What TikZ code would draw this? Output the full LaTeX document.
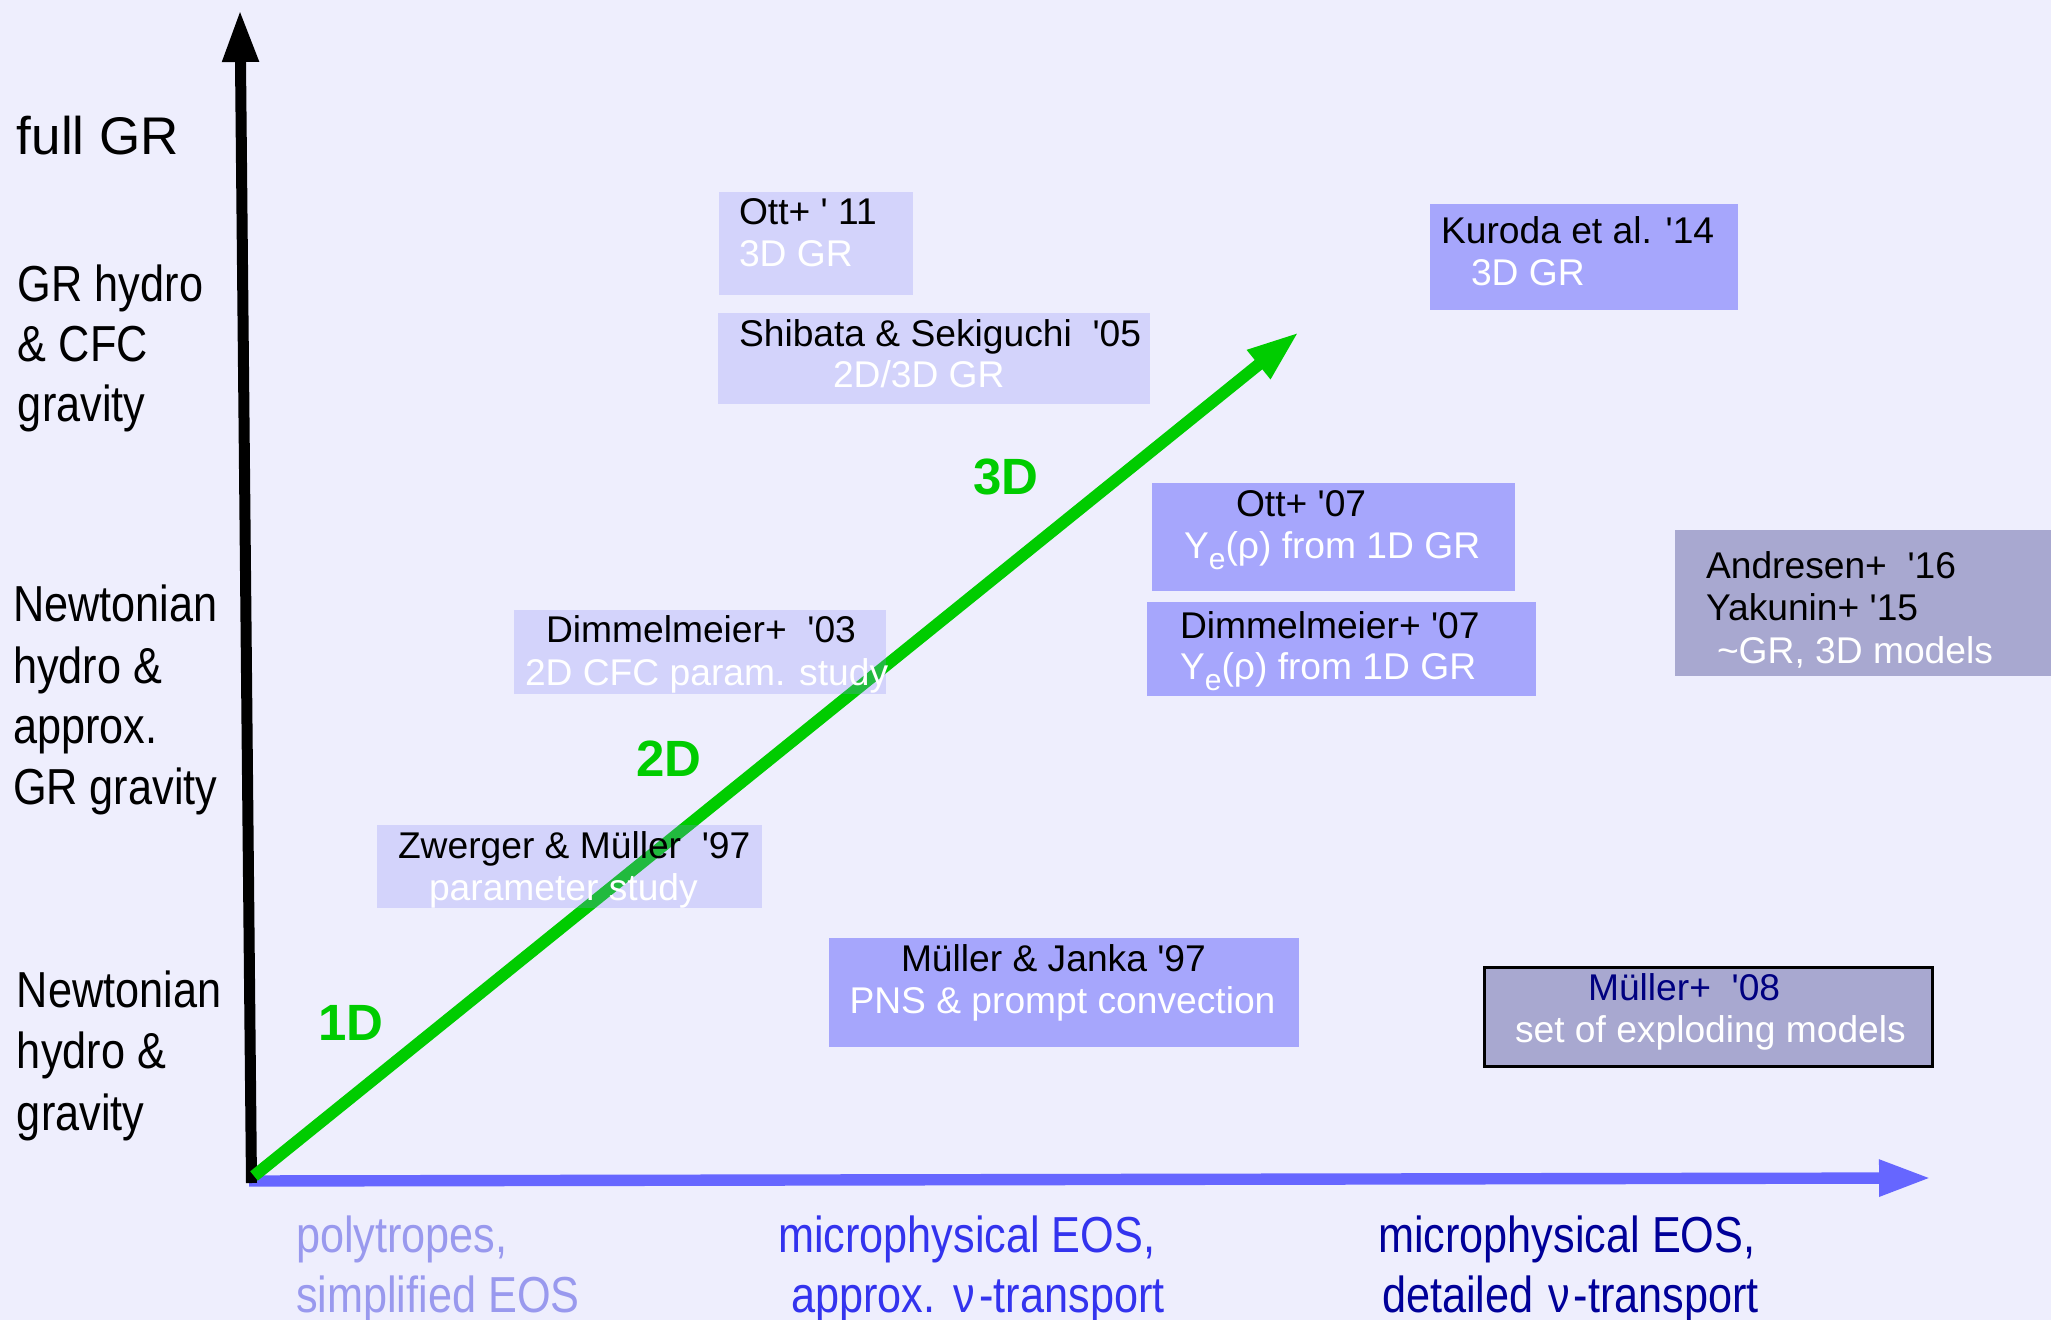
\documentclass[tikz,border=0pt]{standalone}
\usepackage{fontspec}
\usepackage{graphicx}
\setmainfont{Liberation Sans}[Ligatures=TeXOff]
\newfontfamily\narfont{Liberation Sans}[FakeStretch=0.855,Ligatures=TeXOff]
\usetikzlibrary{arrows.meta}
\definecolor{bgc}{RGB}{238,238,253}
\definecolor{lightbx}{RGB}{134,134,249}
\definecolor{medbx}{RGB}{166,166,252}
\definecolor{graybx}{RGB}{168,168,208}
\definecolor{axblue}{RGB}{102,102,255}
\definecolor{grn}{RGB}{0,204,0}
\definecolor{polyc}{RGB}{153,153,238}
\definecolor{apprc}{RGB}{51,51,238}
\definecolor{detc}{RGB}{0,0,153}
\definecolor{navyc}{RGB}{0,0,128}
\newcommand\tline[5]{\node[#4,anchor=base west,inner sep=0pt,outer sep=0pt] (#1) at (#2,#3) {#5};}
\newcommand\Ye{Y\raisebox{-0.28em}{\fontsize{15pt}{15pt}\selectfont e}(ρ)}
\newcommand\nuc{\hspace{0.05em}ν\hspace{0.08em}}
\tikzset{
  bx/.style={rectangle,inner sep=0pt,outer sep=0pt,anchor=north west},
  lightbox/.style={bx,fill=lightbx,fill opacity=0.25},
  medbox/.style={bx,fill=medbx},
  graybox/.style={bx,fill=graybx},
  btxt/.style={font=\fontsize{18.6pt}{21pt}\selectfont},
  bk/.style={btxt,text=black},
  wt/.style={btxt,text=white},
  lab/.style={font=\narfont\fontsize{25.3pt}{30pt}\selectfont,text=black},
  biglab/.style={font=\fontsize{26.5pt}{30pt}\selectfont,text=black},
  dimlab/.style={font=\bfseries\fontsize{25.5pt}{30pt}\selectfont,text=grn},
  tip/.style={-{Triangle[length=26pt,width=17pt]}}
}
\begin{document}
\begin{tikzpicture}[x=0.5pt,y=-0.5pt]
\useasboundingbox (0,0) rectangle (2051,1320);
\fill[bgc] (0,0) rectangle (2051,1320);

% axes and arrow
\coordinate (xb) at (249,1181);
\coordinate (xt) at (1931,1178);
\coordinate (yb) at (251.5,1183);
\coordinate (yt) at (240,10);
\coordinate (gb) at (254,1176);
\coordinate (gt) at (1299,332);
\draw[axblue,line width=5.7pt,tip] (xb) -- (xt);
\draw[black,line width=5.5pt,tip] (yb) -- (yt);
\draw[grn,line width=6pt,tip] (gb) -- (gt);

% boxes
\node[lightbox,minimum width=97pt,minimum height=51.5pt] (b1) at (719,192) {};
\node[lightbox,minimum width=216pt,minimum height=45.5pt] (b2) at (718,313) {};
\node[medbox,minimum width=154pt,minimum height=53pt] (b3) at (1430,204) {};
\node[medbox,minimum width=181.5pt,minimum height=54pt] (b4) at (1152,483) {};
\node[medbox,minimum width=194.5pt,minimum height=47pt] (b5) at (1147,602) {};
\node[graybox,minimum width=188pt,minimum height=73pt] (b6) at (1675,530) {};
\node[lightbox,minimum width=186pt,minimum height=42pt] (b7) at (514,610) {};
\node[lightbox,minimum width=192.5pt,minimum height=41.5pt] (b8) at (377,825) {};
\node[medbox,minimum width=235pt,minimum height=54.5pt] (b9) at (829,938) {};
\node[rectangle,inner sep=0pt,outer sep=0pt,fill=graybx,draw=black,line width=1.65pt,
      minimum width=223.9pt,minimum height=49.35pt] (b10) at (1708.5,1017) {};

% box texts
\tline{t1a}{739}{225}{bk}{Ott+ ' 11}
\tline{t1b}{739}{267}{wt}{3D GR}
\tline{t2a}{739}{347}{bk}{Shibata \& Sekiguchi\ \ '05}
\tline{t2b}{833}{388}{wt}{2D/3D GR}
\tline{t3a}{1441}{244}{bk}{Kuroda et al. '14}
\tline{t3b}{1471}{286}{wt}{3D GR}
\tline{t4a}{1236}{517}{bk}{Ott+ '07}
\tline{t4b}{1184}{559}{wt}{\Ye{} from 1D GR}
\tline{t5a}{1180}{639}{bk}{Dimmelmeier+ '07}
\tline{t5b}{1180}{680}{wt}{\Ye{} from 1D GR}
\tline{t6a}{1706}{579}{bk}{Andresen+\ \ '16}
\tline{t6b}{1706}{621}{bk}{Yakunin+ '15}
\tline{t6c}{1717}{663}{wt}{\textasciitilde GR, 3D models}
\tline{t7a}{546}{643}{bk}{Dimmelmeier+\ \ '03}
\tline{t7b}{525}{685}{wt}{2D CFC param. study}
\tline{t8a}{398}{858}{bk}{Zwerger \& Müller\ \ '97}
\tline{t8b}{429}{900}{wt}{parameter study}
\tline{t9a}{901}{971}{bk}{Müller \& Janka '97}
\tline{t9b}{849.5}{1013}{wt}{PNS \& prompt convection}
\tline{t10a}{1588}{1000}{btxt,text=navyc}{Müller+\ \ '08}
\tline{t10b}{1515}{1042}{wt}{set of exploding models}

% dimension labels
\tline{d1}{318}{1040}{dimlab}{1D}
\tline{d2}{636}{776}{dimlab}{2D}
\tline{d3}{973}{495}{dimlab}{3D}

% left labels
\tline{l0}{17}{155}{biglab}{full GR}
\tline{l1a}{18}{302}{lab}{GR hydro}
\tline{l1b}{18}{362}{lab}{\& CFC}
\tline{l1c}{18}{422}{lab}{gravity}
\tline{l2a}{13}{622}{lab}{Newtonian}
\tline{l2b}{13}{683}{lab}{hydro \&}
\tline{l2c}{13}{743}{lab}{approx.}
\tline{l2d}{13}{804}{lab}{GR gravity}
\tline{l3a}{17}{1007}{lab}{Newtonian}
\tline{l3b}{17}{1068}{lab}{hydro \&}
\tline{l3c}{17}{1130}{lab}{gravity}

% bottom labels
\tline{x1a}{296}{1252}{lab,text=polyc}{polytropes,}
\tline{x1b}{296}{1312}{lab,text=polyc}{simplified EOS}
\tline{x2a}{778}{1252}{lab,text=apprc}{microphysical EOS,}
\tline{x2b}{791}{1312}{lab,text=apprc}{approx. \nuc-transport}
\tline{x3a}{1378}{1252}{lab,text=detc}{microphysical EOS,}
\tline{x3b}{1382}{1312}{lab,text=detc}{detailed \nuc-transport}
\end{tikzpicture}
\end{document}
